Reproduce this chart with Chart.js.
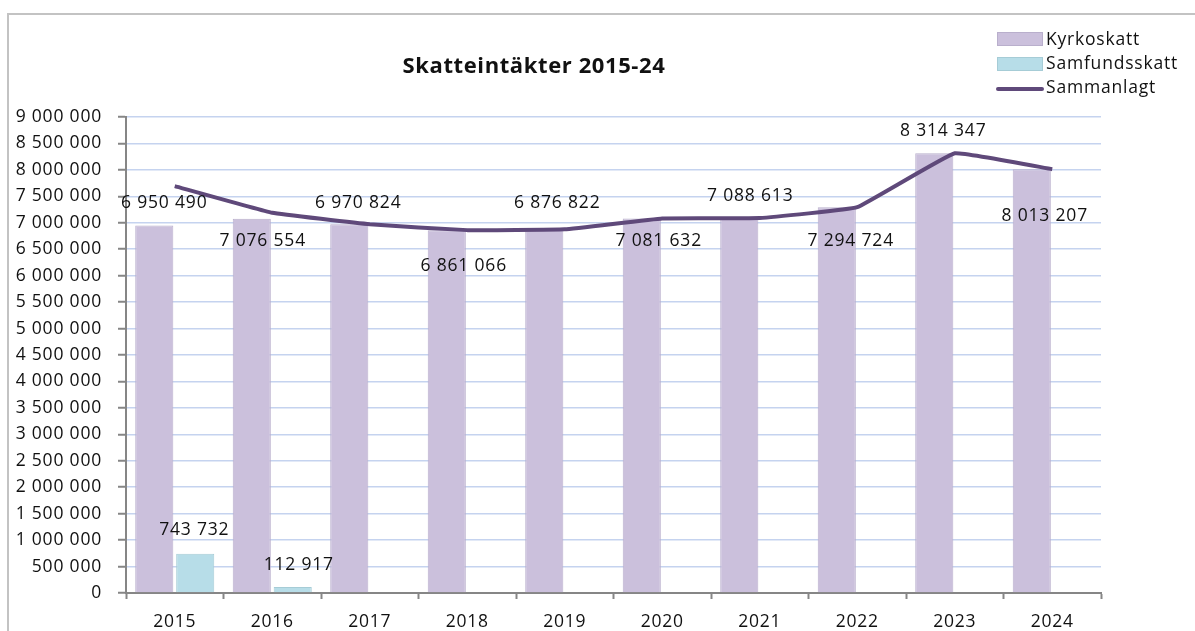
<!DOCTYPE html>
<html>
<head>
<meta charset="utf-8">
<script src="https://cdn.jsdelivr.net/npm/chart.js@4"></script>
<style>
  html, body { margin: 0; padding: 0; background: #fff; }
  #wrap { position: relative; width: 1195px; height: 631px; overflow: hidden; }
  #frame { position: absolute; left: 7px; top: 13px; width: 1300px; height: 800px;
           border-left: 2px solid #c3c3c3; border-top: 2px solid #c3c3c3; }
  #wrap canvas { position: absolute; left: 0; top: 0; }
</style>
</head>
<body>
<div id="wrap">
  <div id="frame"></div>
  <canvas id="skatt"></canvas>
</div>
<script>
const years = ['2015', '2016', '2017', '2018', '2019', '2020', '2021', '2022', '2023', '2024'];
const kyrkoskatt = [6950490, 7076554, 6970824, 6861066, 6876822, 7081632, 7088613, 7294724, 8314347, 8013207];
const samfundsskatt = [743732, 112917, null, null, null, null, null, null, null, null];
const sammanlagt = [7694222, 7189471, 6970824, 6861066, 6876822, 7081632, 7088613, 7294724, 8314347, 8013207];

// where Excel left each data label, relative to the top of its bar
const kyrkoLabelShift = [[10, -22], [11, 22], [9, -21], [17, 36], [13, -26], [17, 23], [11, -22], [14, 34], [9, -22], [13, 47]];
const samfundLabelShift = [[-1, -24], [6, -22]];

const purple = '#cbc0dc';
const cyan = '#b7dde8';
const lineColor = '#5f497a';
const textColor = '#111';
const textFont = { family: 'Open Sans', size: 17.5, weight: 500 };

function fmt(v) {
  return String(v).replace(/\B(?=(\d{3})+(?!\d))/g, ' ');
}

const extras = {
  id: 'extras',
  beforeDraw(chart) {
    chart.ctx.letterSpacing = '0.8px';
  },
  afterDraw(chart) {
    const ctx = chart.ctx;
    ctx.save();
    ctx.letterSpacing = '0.8px';
    ctx.fillStyle = textColor;
    ctx.font = '500 17.5px "Open Sans"';
    ctx.textAlign = 'center';
    ctx.textBaseline = 'middle';

    chart.getDatasetMeta(1).data.forEach((bar, i) => {
      const s = kyrkoLabelShift[i];
      ctx.fillText(fmt(kyrkoskatt[i]), bar.x + s[0], bar.y + s[1]);
    });
    chart.getDatasetMeta(2).data.forEach((bar, i) => {
      if (samfundsskatt[i] == null) return;
      const s = samfundLabelShift[i];
      ctx.fillText(fmt(samfundsskatt[i]), bar.x + s[0], bar.y + s[1]);
    });

    // title
    ctx.letterSpacing = '0.6px';
    ctx.font = 'bold 22px "Open Sans"';
    ctx.fillText('Skatteintäkter 2015-24', 534, 67);

    // legend
    ctx.letterSpacing = '0.8px';
    ctx.font = '500 17.5px "Open Sans"';
    ctx.textAlign = 'left';
    ctx.lineWidth = 1;
    ctx.fillStyle = purple;
    ctx.fillRect(997, 32, 46, 14);
    ctx.strokeStyle = '#b9afcc';
    ctx.strokeRect(997.5, 32.5, 45, 13);
    ctx.fillStyle = cyan;
    ctx.fillRect(997, 57, 46, 14);
    ctx.strokeStyle = '#a6ccd6';
    ctx.strokeRect(997.5, 57.5, 45, 13);
    ctx.strokeStyle = lineColor;
    ctx.lineWidth = 4;
    ctx.lineCap = 'round';
    ctx.beginPath();
    ctx.moveTo(998, 89);
    ctx.lineTo(1042, 89);
    ctx.stroke();
    ctx.fillStyle = textColor;
    ctx.fillText('Kyrkoskatt', 1046, 40);
    ctx.fillText('Samfundsskatt', 1046, 64);
    ctx.fillText('Sammanlagt', 1046, 88);
    ctx.restore();
  }
};

new Chart(document.getElementById('skatt'), {
  type: 'bar',
  data: {
    labels: years,
    datasets: [
      {
        type: 'line',
        label: 'Sammanlagt',
        data: sammanlagt,
        borderColor: lineColor,
        borderWidth: 4,
        pointRadius: 0,
        tension: 0.08,
        order: 0
      },
      {
        label: 'Kyrkoskatt',
        data: kyrkoskatt,
        backgroundColor: purple,
        borderColor: '#b9afcc',
        borderWidth: 1,
        categoryPercentage: 0.84,
        barPercentage: 0.93,
        order: 1
      },
      {
        label: 'Samfundsskatt',
        data: samfundsskatt,
        backgroundColor: cyan,
        borderColor: '#a6ccd6',
        borderWidth: 1,
        categoryPercentage: 0.84,
        barPercentage: 0.93,
        order: 1
      }
    ]
  },
  options: {
    responsive: true,
    maintainAspectRatio: false,
    animation: false,
    layout: { padding: { top: 117, right: 94, left: 0, bottom: 0 } },
    scales: {
      x: {
        grid: { drawOnChartArea: false, tickLength: 6, tickColor: '#868686', tickWidth: 2 },
        border: { color: '#868686', width: 2 },
        ticks: { color: textColor, font: textFont, padding: 13 },
        afterFit(scale) { scale.height = 38; }
      },
      y: {
        min: 0,
        max: 9000000,
        grid: { color: '#c5d3ef', lineWidth: 1.5, tickLength: 8, tickColor: '#868686', tickWidth: 2 },
        border: { color: '#868686', width: 2 },
        ticks: {
          stepSize: 500000,
          color: textColor,
          font: textFont,
          padding: 16,
          callback: v => fmt(v)
        },
        afterFit(scale) { scale.width = 126; }
      }
    },
    plugins: {
      legend: { display: false },
      title: { display: false },
      tooltip: { enabled: false }
    }
  },
  plugins: [extras]
});
</script>
</body>
</html>
